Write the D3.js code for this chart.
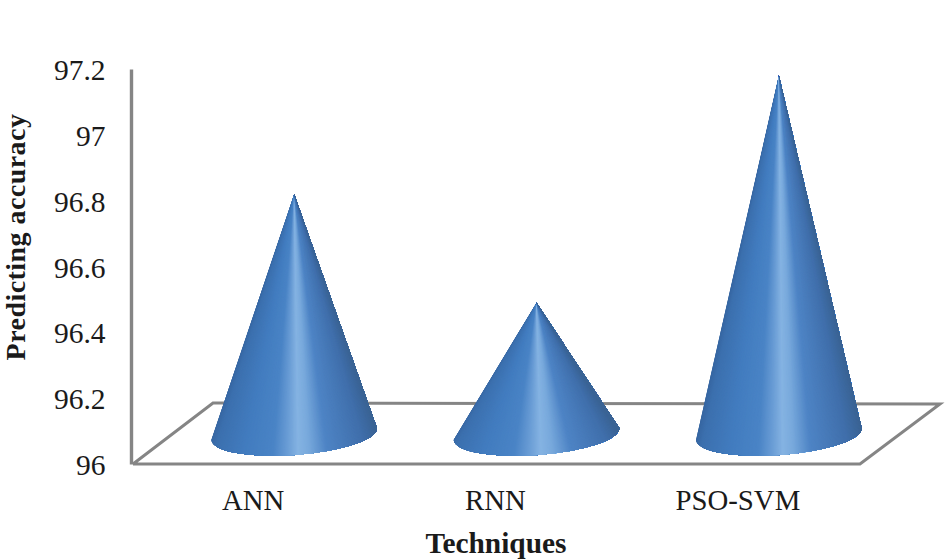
<!DOCTYPE html>
<html><head><meta charset="utf-8">
<script src="https://cdn.jsdelivr.net/npm/d3@7/dist/d3.min.js"></script>
<style>html,body{margin:0;padding:0;background:#fff}svg{display:block}text{font-family:"Liberation Serif",serif;fill:#1a1a1a}</style>
</head><body><svg id="c" width="950" height="559"></svg>
<script>
const categories = ["ANN","RNN","PSO-SVM"];
const accuracy = [96.82,96.49,97.18];
const tickValues = [96,96.2,96.4,96.6,96.8,97,97.2];
const tickLabels = ["96","96.2","96.4","96.6","96.8","97","97.2"];
const yDomain = [96,97.2];
const xTitle = "Techniques", yTitle = "Predicting accuracy";
const shadeOffsets = [0,0.05,0.22,0.38,0.46,0.52,0.58,0.68,0.90,1];
const shadeColors = ["#35649f","#3c70ae","#427cbf","#4a84c6","#6a9dd6","#85b3e2","#78a9dc","#4e84c5","#406fab","#3a6394"];

const svg = d3.select("#c");
const W0 = 133, W1 = 860, Y0 = 464, Y1 = 69, DX = 81, DY = 60;
const x = d3.scaleBand().domain(categories).range([W0,W1]);
const y = d3.scaleLinear().domain(yDomain).range([Y0,Y1]);
const shade = d3.scaleLinear().domain(shadeOffsets).range(shadeColors);
const grey = "#858585";

// floor
svg.append("path").attr("fill","none").attr("stroke",grey).attr("stroke-width",3).attr("stroke-linejoin","miter")
  .attr("d",d3.line()([[W0,Y0],[W1,Y0],[W1+DX-1,Y0-DY],[W0+DX-1,Y0-DY-1],[W0,Y0]]));

// y axis
const axis = d3.axisLeft(y).tickValues(tickValues).tickSize(0).tickPadding(25.5)
  .tickFormat((d,i)=>tickLabels[i]);
const gy = svg.append("g").attr("transform","translate(131,0)").call(axis);
gy.select(".domain").attr("stroke",grey).attr("stroke-width",3.4);
gy.selectAll("text").attr("font-size",29.5).attr("dy","0.36em");

// cones: overlapping wedges fanning from the apex, clipped to the silhouette
const halfW = 83, minorR = 21, tiltDeg = -4.2, tilt = tiltDeg*Math.PI/180, nSlices = 200;
const slices = d3.range(nSlices).map(k=>k/(nSlices-1));
const defs = svg.append("defs");
categories.forEach((c,i)=>{
  const cx = x(c)+x.bandwidth()/2+DX/2-0.5, cy = Y0-DY/2, ay = y(accuracy[i]);
  const lx = cx-halfW*Math.cos(tilt), ly = cy-halfW*Math.sin(tilt);
  const rx = cx+halfW*Math.cos(tilt), ryy = cy+halfW*Math.sin(tilt);
  defs.append("clipPath").attr("id","cone"+i).append("path")
    .attr("d",`M${cx},${ay}L${rx},${ryy}A${halfW},${minorR} ${tiltDeg} 0 1 ${lx},${ly}Z`);
  const low = cy+40, k = (low-ay)/(cy-ay);
  svg.append("g").attr("clip-path",`url(#cone${i})`)
    .selectAll("path").data(slices).join("path")
    .attr("fill",t=>shade(t))
    .attr("d",t=>{
      const bx = cx+(cx-halfW+2*halfW*t-cx)*k;
      return d3.line()([[cx,ay-5],[cx,ay],[bx,low],[cx+halfW*2,low],[cx+halfW*2,ay-5]])+"Z";
    });
});

// category labels
svg.selectAll("text.cat").data(categories).join("text").attr("class","cat")
  .attr("x",c=>x(c)+x.bandwidth()/2-1).attr("y",509.5)
  .attr("text-anchor","middle").attr("font-size",28.8).text(c=>c);

svg.append("text").attr("x",496).attr("y",552.5).attr("text-anchor","middle")
  .attr("font-size",29.4).attr("font-weight","bold").text(xTitle);
svg.append("text").attr("transform","translate(25,237) rotate(-90)").attr("text-anchor","middle")
  .attr("font-size",28).attr("letter-spacing",0.45).attr("font-weight","bold").text(yTitle);
</script></body></html>
